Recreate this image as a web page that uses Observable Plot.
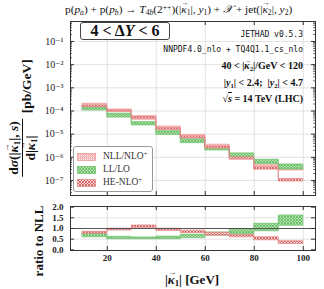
<!DOCTYPE html>
<html><head><meta charset="utf-8">
<script src="https://cdn.jsdelivr.net/npm/d3@7"></script>
<script src="https://cdn.jsdelivr.net/npm/@observablehq/plot@0.6"></script>
<style>
body{margin:0;background:#fff;}
#wrap{position:relative;width:324px;height:289px;overflow:hidden;font-family:"Liberation Serif","DejaVu Serif",serif;color:#111;}
#wrap svg.plot{position:absolute;left:0;}
.abs{position:absolute;white-space:nowrap;line-height:1;}
sub,sup{font-size:0.68em;line-height:0;}
sub{vertical-align:-0.25em;} sup{vertical-align:0.45em;}
.vec{position:relative;display:inline-block;}
.vec::after{content:"\2192";position:absolute;left:0.05em;top:-0.52em;font-size:0.62em;font-style:normal;}
.mono{font-family:"DejaVu Sans Mono","Liberation Mono",monospace;font-size:8px;}
.rot{transform:translate(-50%,-50%) rotate(-90deg);}
</style></head><body><div id="wrap"></div>
<script>
// ---- data ----
const binEdges = [10, 20, 30, 40, 50, 60, 70, 80, 90, 100];
// main panel: d sigma / d|kappa1| [pb/GeV], band low/high per bin
const nllLo = [1.38e-4, 8.9e-5, 4.2e-5, 1.48e-5, 6.1e-6, 2.33e-6, 7.8e-7, 3.0e-7, 2.7e-7];
const nllHi = [2.04e-4, 1.16e-4, 6.0e-5, 2.14e-5, 9.1e-6, 3.5e-6, 1.1e-6, 4.9e-7, 3.5e-7];
const llLo  = [1.05e-4, 5.2e-5, 2.37e-5, 9.3e-6, 4.1e-6, 1.98e-6, 1.02e-6, 5.2e-7, 3.0e-7];
const llHi  = [1.38e-4, 7.6e-5, 3.3e-5, 1.35e-5, 5.9e-6, 2.56e-6, 1.48e-6, 7.8e-7, 4.9e-7];
const heLo  = [1.48e-4, 9.5e-5, 4.6e-5, 1.6e-5, 6.9e-6, 2.4e-6, 8.5e-7, 3.0e-7, 9.1e-8];
const heHi  = [1.74e-4, 1.04e-4, 5.5e-5, 1.85e-5, 7.9e-6, 2.9e-6, 9.9e-7, 3.7e-7, 1.17e-7];
// ratio panel: ratio to NLL
const llRatioLo = [0.59, 0.50, 0.50, 0.50, 0.55, 0.66, 0.72, 0.87, 1.13];
const llRatioHi = [0.75, 0.61, 0.58, 0.62, 0.71, 0.81, 0.94, 1.22, 1.61];
const heRatioLo = [0.75, 0.91, 1.03, 0.89, 0.79, 0.67, 0.59, 0.45, 0.28];
const heRatioHi = [0.845, 0.99, 1.14, 0.99, 0.90, 0.80, 0.70, 0.59, 0.40];
// ticks
const xTicks = [20, 40, 60, 80, 100];
const yMainTicks = [1e-1, 1e-2, 1e-3, 1e-4, 1e-5, 1e-6, 1e-7];
const yMainTickLabels = ["10⁻¹", "10⁻²", "10⁻³", "10⁻⁴", "10⁻⁵", "10⁻⁶", "10⁻⁷"];
const yRatioTicks = [0, 0.5, 1, 1.5, 2];
const yRatioTickLabels = ["0.0", "0.5", "1.0", "1.5", "2.0"];
const legendLabels = ["NLL/NLO<sup>+</sup>", "LL/LO", "HE-NLO<sup>+</sup>"];

// ---- styles ----
const C = {
  nllStroke: "#f09a9a", llStroke: "#72c472", heStroke: "#e48888", frame: "#333", grid: "#dcdcdc"
};
const serif = "Liberation Serif, DejaVu Serif, serif";

// step table built from the arrays
function rows(lo, hi) {
  const r = lo.map((v, i) => ({x: binEdges[i], lo: v, hi: hi[i]}));
  r.push({x: binEdges[binEdges.length - 1], lo: lo[lo.length - 1], hi: hi[hi.length - 1]});
  return r;
}

const wrap = document.getElementById("wrap");

// pattern defs
const defs = document.createElementNS("http://www.w3.org/2000/svg", "svg");
defs.setAttribute("width", 0); defs.setAttribute("height", 0);
defs.style.position = "absolute";
defs.innerHTML = `<defs>
<pattern id="pNLL" width="2" height="2" patternUnits="userSpaceOnUse">
  <rect width="2" height="2" fill="#f6b4b4"/><rect x="0" y="0" width="1" height="1" fill="#fdeaea"/>
</pattern>
<pattern id="pLL" width="3" height="3" patternUnits="userSpaceOnUse">
  <rect width="3" height="3" fill="#b0e2aa"/>
  <path d="M0,0L3,3M3,0L0,3" stroke="#58b258" stroke-width="0.7"/>
</pattern>
<pattern id="pHE" width="3" height="3" patternUnits="userSpaceOnUse">
  <rect width="3" height="3" fill="#fbdcdc"/>
  <path d="M0,0L3,3M3,0L0,3" stroke="#c73c3c" stroke-width="0.7"/>
</pattern>
</defs>`;
wrap.appendChild(defs);

// minor log ticks
const minor = [];
for (let e = -8; e <= -1; e++) for (let m = 2; m <= 9; m++) {
  const v = m * Math.pow(10, e);
  if (v > 2.25e-8 && v < 0.73) minor.push(v);
}

const FW = 245; // frame width (324-70-9)
const mainH = 196, mainMT = 21, mainMB = 1, mainFH = mainH - mainMT - mainMB;

const main = Plot.plot({
  width: 324, height: mainH, marginLeft: 70, marginRight: 9, marginTop: mainMT, marginBottom: mainMB,
  style: {fontFamily: serif, fontSize: "10px", background: "transparent", color: "#222", overflow: "visible"},
  x: {domain: [5, 105], axis: null},
  y: {type: "log", domain: [2.25e-8, 0.73], axis: null},
  marks: [
    Plot.ruleX(xTicks, {x: d => d, stroke: C.grid, strokeWidth: 0.8}),
    Plot.ruleY(yMainTicks, {y: d => d, stroke: C.grid, strokeWidth: 0.8}),
    Plot.areaY(rows(nllLo, nllHi), {x: "x", y1: "lo", y2: "hi", curve: "step-after", fill: "url(#pNLL)", stroke: C.nllStroke, strokeWidth: 0.8}),
    Plot.areaY(rows(llLo, llHi), {x: "x", y1: "lo", y2: "hi", curve: "step-after", fill: "url(#pLL)", stroke: C.llStroke, strokeWidth: 0.8}),
    Plot.areaY(rows(heLo, heHi), {x: "x", y1: "lo", y2: "hi", curve: "step-after", fill: "url(#pHE)", stroke: C.heStroke, strokeWidth: 0.8}),
    Plot.tickY(yMainTicks, {y: d => d, insetRight: FW - 4, stroke: C.frame}),
    Plot.tickY(yMainTicks, {y: d => d, insetLeft: FW - 4, stroke: C.frame}),
    Plot.tickY(minor, {y: d => d, insetRight: FW - 2, stroke: C.frame, strokeWidth: 0.7}),
    Plot.tickY(minor, {y: d => d, insetLeft: FW - 2, stroke: C.frame, strokeWidth: 0.7}),
    Plot.tickX(xTicks, {x: d => d, insetBottom: mainFH - 4, stroke: C.frame}),
    Plot.tickX(xTicks, {x: d => d, insetTop: mainFH - 4, stroke: C.frame}),
    Plot.text(yMainTicks, {y: d => d, text: (d, i) => yMainTickLabels[i], frameAnchor: "left", textAnchor: "end", dx: -7, fontSize: 10, fill: "#222"}),
    Plot.frame({stroke: C.frame, strokeWidth: 1})
  ]
});
main.classList.add("plot");
main.style.top = "0px";
wrap.appendChild(main);

const rH = 93, rMT = 10, rMB = 39, rFH = rH - rMT - rMB;
const ratio = Plot.plot({
  width: 324, height: rH, marginLeft: 70, marginRight: 9, marginTop: rMT, marginBottom: rMB,
  style: {fontFamily: serif, fontSize: "9px", background: "transparent", color: "#222", overflow: "visible"},
  x: {domain: [5, 105], axis: null},
  y: {domain: [-0.03, 2.03], axis: null},
  marks: [
    Plot.ruleX(xTicks, {x: d => d, stroke: C.grid, strokeWidth: 0.8}),
    Plot.ruleY([0.5, 1.5], {y: d => d, stroke: C.grid, strokeWidth: 0.8}),
    Plot.areaY(rows(llRatioLo, llRatioHi), {x: "x", y1: "lo", y2: "hi", curve: "step-after", fill: "url(#pLL)", stroke: C.llStroke, strokeWidth: 0.8}),
    Plot.areaY(rows(heRatioLo, heRatioHi), {x: "x", y1: "lo", y2: "hi", curve: "step-after", fill: "url(#pHE)", stroke: C.heStroke, strokeWidth: 0.8}),
    Plot.ruleY([1], {y: d => d, stroke: "#555", strokeWidth: 1}),
    Plot.tickY(yRatioTicks, {y: d => d, insetRight: FW - 4, stroke: C.frame}),
    Plot.tickY(yRatioTicks, {y: d => d, insetLeft: FW - 4, stroke: C.frame}),
    Plot.tickX(xTicks, {x: d => d, insetBottom: rFH - 4, stroke: C.frame}),
    Plot.tickX(xTicks, {x: d => d, insetTop: rFH - 4, stroke: C.frame}),
    Plot.text(yRatioTicks, {y: d => d, text: (d, i) => yRatioTickLabels[i], frameAnchor: "left", textAnchor: "end", dx: -7, fontSize: 9, fontWeight: "bold", fill: "#222"}),
    Plot.text(xTicks, {x: d => d, text: d => String(d), frameAnchor: "bottom", lineAnchor: "top", dy: 4, fontSize: 9, fontWeight: "bold", fill: "#222"}),
    Plot.frame({stroke: C.frame, strokeWidth: 1})
  ]
});
ratio.classList.add("plot");
ratio.style.top = "196px";
wrap.appendChild(ratio);

// ---- text overlays ----
function add(html, css, cls = "abs") {
  const d = document.createElement("div");
  d.className = cls;
  d.innerHTML = html;
  Object.assign(d.style, css);
  wrap.appendChild(d);
  return d;
}
const k1 = `<span class="vec"><i>κ</i></span><sub>1</sub>`;
const k2 = `<span class="vec"><i>κ</i></span><sub>2</sub>`;

add(`p(<i>p<sub>a</sub></i>) + p(<i>p<sub>b</sub></i>) → <i>T</i><sub>4<i>b</i></sub>(2<sup>++</sup>)(|${k1}|, <i>y</i><sub>1</sub>) + <i>𝒳</i> + jet(|${k2}|, <i>y</i><sub>2</sub>)`,
  {left: "65px", top: "4px", fontSize: "11.3px"});

// box
add(`4 &lt; Δ<i>Y</i> &lt; 6`, {left: "80px", top: "22px", width: "88px", height: "16px", lineHeight: "16px", textAlign: "center",
  fontSize: "16px", fontWeight: "bold", border: "1px solid #444", borderRadius: "3px", background: "#fff"});

add(`JETHAD v0.5.3`, {right: "21px", top: "31px"}, "abs mono");
add(`NNPDF4.0_nlo + TQ4Q1.1_cs_nlo`, {right: "21px", top: "46px"}, "abs mono");
add(`40 &lt; |<b>${k2}</b>|/GeV &lt; 120`, {right: "21px", top: "61px", fontSize: "10px", fontWeight: "bold"});
add(`|<i>y</i><sub>1</sub>| &lt; 2.4;&nbsp; |<i>y</i><sub>2</sub>| &lt; 4.7`, {right: "21px", top: "78px", fontSize: "10px", fontWeight: "bold"});
add(`√<span style="text-decoration:overline"><i>s</i></span> = 14 TeV (LHC)`, {right: "21px", top: "94px", fontSize: "10px", fontWeight: "bold"});

// legend
const leg = add("", {left: "73px", top: "146px", width: "78px", height: "44px", border: "1px solid #999", borderRadius: "3px", background: "#fff"});
const legPat = ["pNLL", "pLL", "pHE"], legStroke = [C.nllStroke, C.llStroke, C.heStroke];
legendLabels.forEach((lab, i) => {
  const r = document.createElement("div");
  r.className = "abs";
  Object.assign(r.style, {left: "3px", top: (5 + i * 13) + "px", fontSize: "9.5px", display: "flex", alignItems: "center", color: "#333"});
  r.innerHTML = `<svg width="19" height="8" style="margin-right:7px"><rect x="0.5" y="0.5" width="18" height="7" fill="url(#${legPat[i]})" stroke="${legStroke[i]}" stroke-width="0.8"/></svg><span>${lab}</span>`;
  leg.appendChild(r);
});

// y labels
add(`<span style="display:inline-flex;flex-direction:column;align-items:center;">
  <span style="padding:0 2px 1px 2px;">d<i>σ</i>(|${k1}|, <i>s</i>)</span>
  <span style="border-top:1px solid #111;padding:1px 2px 0 2px;align-self:stretch;text-align:center;">d|${k1}|</span></span><span style="position:relative;top:5px;margin-left:6px;">[pb/GeV]</span>`,
  {left: "22px", top: "118px", fontSize: "13.5px", fontWeight: "bold", display: "flex", alignItems: "center"}, "abs rot");
add(`ratio to NLL`, {left: "38px", top: "241px", fontSize: "13px", fontWeight: "bold"}, "abs rot");
// x label
add(`|<b>${k1}</b>| [GeV]`, {left: "192px", top: "279px", fontSize: "13px", fontWeight: "bold", transform: "translate(-50%,-50%)"});
</script></body></html>
